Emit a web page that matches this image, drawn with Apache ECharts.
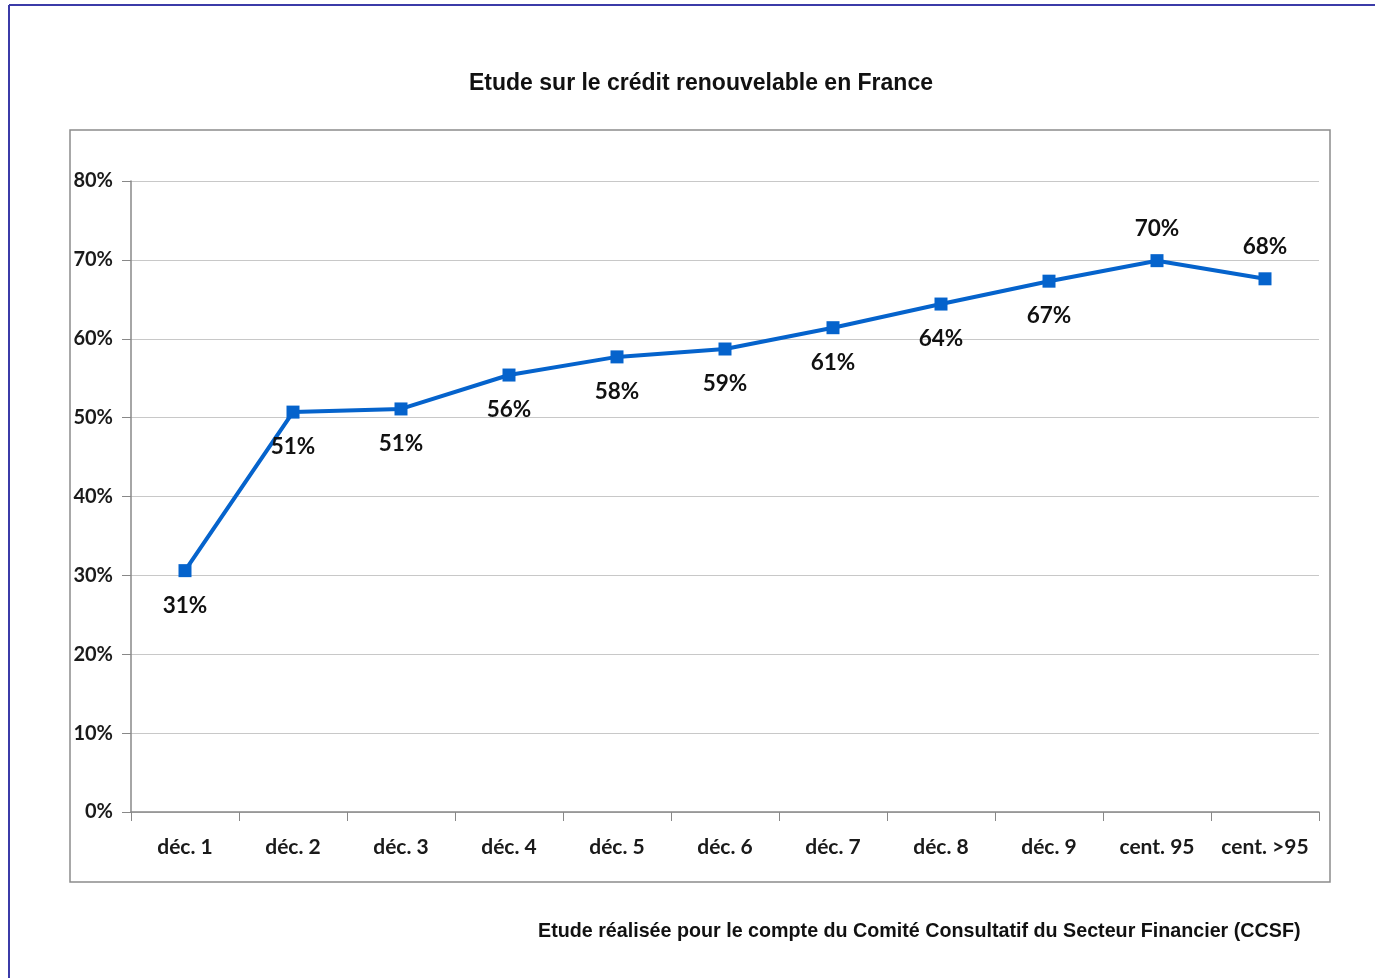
<!DOCTYPE html>
<html>
<head>
<meta charset="utf-8">
<script src="https://cdn.jsdelivr.net/npm/echarts@6/dist/echarts.min.js"></script>
<style>html,body{margin:0;padding:0;background:#fff;}#c{width:1375px;height:978px;}</style>
</head>
<body>
<div id="c"></div>
<script>
const categories = ['déc. 1','déc. 2','déc. 3','déc. 4','déc. 5','déc. 6','déc. 7','déc. 8','déc. 9','cent. 95','cent. >95'];
const values = [30.6, 50.7, 51.1, 55.4, 57.7, 58.7, 61.4, 64.4, 67.3, 69.9, 67.6];
const labelTexts = ['31%','51%','51%','56%','58%','59%','61%','64%','67%','70%','68%'];
const labelAbove = [false,false,false,false,false,false,false,false,false,true,true];
const yTicks = [0,10,20,30,40,50,60,70,80];

const chart = echarts.init(document.getElementById('c'), null, {renderer:'canvas'});
const seriesData = values.map((v,i)=>({
  value: v,
  label: {
    show: true,
    position: labelAbove[i] ? 'top' : 'bottom',
    distance: labelAbove[i] ? 14 : 17,
    formatter: labelTexts[i]
  }
}));
chart.setOption({
  animation: false,
  backgroundColor: '#fff',
  title: {
    text: 'Etude sur le crédit renouvelable en France',
    left: 696, top: 67, textAlign: 'center',
    textStyle: {fontFamily: 'Liberation Sans', fontWeight: 'bold', fontSize: 23, color: '#111'}
  },
  graphic: [
    {type:'line', shape:{x1:9, y1:5, x2:1375, y2:5}, style:{stroke:'#3b3ba8', lineWidth:2}},
    {type:'line', shape:{x1:9, y1:5, x2:9, y2:978}, style:{stroke:'#3b3ba8', lineWidth:2}},
    {type:'rect', shape:{x:70, y:130, width:1260, height:752}, style:{fill:'none', stroke:'#8c8c8c', lineWidth:1.5}, z:-1},
    {type:'text', left: 538, top: 922, style:{text:'Etude réalisée pour le compte du Comité Consultatif du Secteur Financier (CCSF)', fontFamily:'Liberation Sans', fontWeight:'bold', fontSize:19.7, fill:'#111'}}
  ],
  grid: {left:131, right:56, top:181, bottom:166},
  xAxis: {
    type: 'category',
    data: categories,
    boundaryGap: true,
    axisLine: {lineStyle:{color:'#888', width:1.5}},
    axisTick: {show:true, interval:0, length:9, lineStyle:{color:'#888'}},
    axisLabel: {interval:0, margin: 25, fontFamily:'Lato', fontWeight:'bold', fontSize:21, color:'#1a1a1a'}
  },
  yAxis: {
    type: 'value',
    min: 0, max: 80, interval: 10,
    axisLine: {show:true, lineStyle:{color:'#888', width:1.5}},
    axisTick: {show:true, length:9, lineStyle:{color:'#888'}},
    splitLine: {lineStyle:{color:'#c8c8c8', width:1}},
    axisLabel: {margin: 18, fontFamily:'Lato', fontWeight:'bold', fontSize:20, color:'#1a1a1a', formatter: v => yTicks.includes(v) ? v + '%' : ''}
  },
  series: [{
    type: 'line',
    data: seriesData,
    symbol: 'rect',
    symbolSize: 13,
    lineStyle: {color:'#0563cc', width:4},
    itemStyle: {color:'#0563cc'},
    label: {fontFamily:'Lato', fontWeight:'bold', fontSize:22.5, color:'#111'}
  }]
});
</script>
</body>
</html>
